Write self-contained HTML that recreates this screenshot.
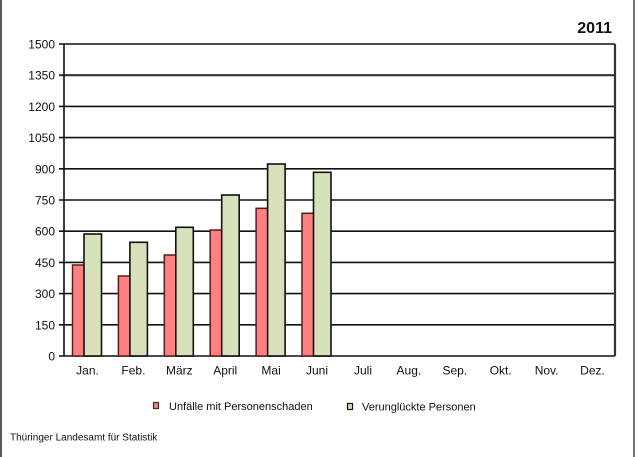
<!DOCTYPE html>
<html><head><meta charset="utf-8"><style>
html,body{margin:0;padding:0;background:#fff;}
svg{display:block;}
text{font-family:"Liberation Sans",Arial,sans-serif;fill:#111;}
</style></head><body>
<svg width="640" height="457" viewBox="0 0 640 457" xmlns="http://www.w3.org/2000/svg">
<rect x="0" y="0" width="640" height="457" fill="#fff"/>
<line x1="1" y1="0" x2="1" y2="457" stroke="#222" stroke-width="1.5"/>
<line x1="634" y1="0" x2="634" y2="457" stroke="#444" stroke-width="1.5"/>
<text x="612" y="33" font-size="16" font-weight="bold" text-anchor="end">2011</text>
<g stroke="#111" stroke-width="1.6">
<line x1="59" y1="44" x2="615" y2="44"/>
<line x1="59" y1="75.2" x2="615" y2="75.2" stroke-width="2.2" stroke="#333"/>
<line x1="59" y1="106.4" x2="615" y2="106.4"/>
<line x1="59" y1="137.6" x2="615" y2="137.6"/>
<line x1="59" y1="168.8" x2="615" y2="168.8"/>
<line x1="59" y1="200" x2="615" y2="200"/>
<line x1="59" y1="231.2" x2="615" y2="231.2"/>
<line x1="59" y1="262.4" x2="615" y2="262.4"/>
<line x1="59" y1="293.6" x2="615" y2="293.6"/>
<line x1="59" y1="324.8" x2="615" y2="324.8"/>
<line x1="59" y1="356" x2="615" y2="356"/>
<line x1="64" y1="44" x2="64" y2="356"/>
<line x1="615" y1="44" x2="615" y2="356" stroke-width="2.2" stroke="#333"/>
</g>
<g font-size="12" text-anchor="end">
<text x="55" y="48.5">1500</text>
<text x="55" y="79.7">1350</text>
<text x="55" y="110.9">1200</text>
<text x="55" y="142.1">1050</text>
<text x="55" y="173.3">900</text>
<text x="55" y="204.5">750</text>
<text x="55" y="235.7">600</text>
<text x="55" y="266.9">450</text>
<text x="55" y="298.1">300</text>
<text x="55" y="329.3">150</text>
<text x="55" y="360.5">0</text>
</g>
<g fill="#ff8080" stroke="#5a1c1c" stroke-width="1.5">
<rect x="72.5" y="265" width="17" height="91"/>
<rect x="118.4" y="276" width="17" height="80"/>
<rect x="164.3" y="255" width="17" height="101"/>
<rect x="210.2" y="230" width="17" height="126"/>
<rect x="256.1" y="208.3" width="17" height="147.7"/>
<rect x="302" y="213.3" width="17" height="142.7"/>
</g>
<g fill="#d7e2bd" stroke="#111" stroke-width="1.6">
<rect x="84" y="234" width="17.5" height="122"/>
<rect x="129.9" y="242.3" width="17.5" height="113.7"/>
<rect x="175.8" y="227.3" width="17.5" height="128.7"/>
<rect x="221.7" y="195" width="17.5" height="161"/>
<rect x="267.6" y="164" width="17.5" height="192"/>
<rect x="313.5" y="172.3" width="17.5" height="183.7"/>
</g>
<g font-size="12" text-anchor="middle">
<text x="87.5" y="374.5">Jan.</text>
<text x="133.4" y="374.5">Feb.</text>
<text x="179.3" y="374.5">März</text>
<text x="225.2" y="374.5">April</text>
<text x="271.1" y="374.5">Mai</text>
<text x="317" y="374.5">Juni</text>
<text x="363" y="374.5">Juli</text>
<text x="408.9" y="374.5">Aug.</text>
<text x="454.8" y="374.5">Sep.</text>
<text x="500.7" y="374.5">Okt.</text>
<text x="546.6" y="374.5">Nov.</text>
<text x="592.5" y="374.5">Dez.</text>
</g>
<rect x="153.5" y="402.5" width="5" height="6" fill="#ff8080" stroke="#333" stroke-width="1.2"/>
<text x="169" y="410" font-size="11">Unfälle mit Personenschaden</text>
<rect x="347.5" y="403.5" width="5" height="6" fill="#d7e2bd" stroke="#111" stroke-width="1.2"/>
<text x="362" y="410.5" font-size="11">Verunglückte Personen</text>
<text x="10" y="440.5" font-size="10">Thüringer Landesamt für Statistik</text>
</svg>
</body></html>
